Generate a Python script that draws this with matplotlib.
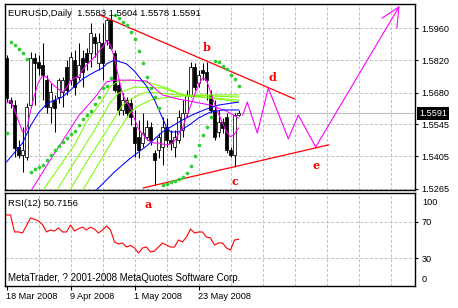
import matplotlib
matplotlib.use('Agg')
import matplotlib.pyplot as plt
from matplotlib import transforms

plt.rcParams['font.family'] = ['Liberation Sans', 'DejaVu Sans']

# chart texts
symbol = 'EURUSD,Daily'
rsi_name = 'RSI(12)'
rsi_last = 50.7156
copyright_text = 'MetaTrader, ? 2001-2008 MetaQuotes Software Corp.'

# date axis
date_labels = ['18 Mar 2008', '9 Apr 2008', '1 May 2008', '23 May 2008']
date_bars = [0, 16, 32, 48]
price_ticks = [1.5265, 1.5405, 1.5545, 1.5680, 1.5820, 1.5960]
rsi_levels = [30, 70]

# daily candles
opens = [1.5830, 1.5649, 1.5627, 1.5446, 1.5411, 1.5403, 1.5627, 1.5830, 1.5813, 1.5800,
         1.5735, 1.5619, 1.5649, 1.5662, 1.5684, 1.5792, 1.5735, 1.5822, 1.5748, 1.5830,
         1.5852, 1.5852, 1.5921, 1.5809, 1.5895, 1.5908, 1.5995, 1.5852, 1.5714, 1.5606,
         1.5649, 1.5636, 1.5532, 1.5489, 1.5463, 1.5489, 1.5532, 1.5420, 1.5433, 1.5446,
         1.5532, 1.5476, 1.5446, 1.5476, 1.5519, 1.5593, 1.5671, 1.5792, 1.5722, 1.5779,
         1.5770, 1.5671, 1.5606, 1.5511, 1.5554, 1.5576, 1.5433, 1.5411, 1.5583]
highs = [1.5843, 1.5662, 1.5649, 1.5476, 1.5532, 1.5636, 1.5856, 1.5852, 1.5843, 1.5895,
         1.5757, 1.5722, 1.5671, 1.5744, 1.5748, 1.5822, 1.5856, 1.5865, 1.5895, 1.5865,
         1.5874, 1.5982, 1.5938, 1.5938, 1.5982, 1.6003, 1.6016, 1.5865, 1.5735, 1.5679,
         1.5662, 1.5658, 1.5606, 1.5563, 1.5593, 1.5563, 1.5554, 1.5433, 1.5506, 1.5576,
         1.5571, 1.5519, 1.5519, 1.5606, 1.5649, 1.5692, 1.5813, 1.5809, 1.5779, 1.5809,
         1.5813, 1.5692, 1.5649, 1.5606, 1.5571, 1.5593, 1.5446, 1.5593, 1.5604]
lows = [1.5640, 1.5614, 1.5403, 1.5398, 1.5338, 1.5390, 1.5614, 1.5627, 1.5757, 1.5649,
        1.5593, 1.5550, 1.5511, 1.5636, 1.5619, 1.5671, 1.5714, 1.5671, 1.5735, 1.5705,
        1.5779, 1.5792, 1.5835, 1.5779, 1.5735, 1.5887, 1.5865, 1.5684, 1.5584, 1.5584,
        1.5576, 1.5541, 1.5403, 1.5398, 1.5446, 1.5476, 1.5455, 1.5282, 1.5398, 1.5368,
        1.5446, 1.5433, 1.5403, 1.5463, 1.5489, 1.5576, 1.5662, 1.5692, 1.5705, 1.5735,
        1.5649, 1.5593, 1.5476, 1.5489, 1.5506, 1.5420, 1.5403, 1.5360, 1.5578]
closes = [1.5658, 1.5636, 1.5442, 1.5411, 1.5433, 1.5619, 1.5830, 1.5809, 1.5787, 1.5757,
          1.5619, 1.5684, 1.5614, 1.5735, 1.5735, 1.5692, 1.5835, 1.5705, 1.5800, 1.5770,
          1.5813, 1.5938, 1.5895, 1.5900, 1.5809, 1.5995, 1.5874, 1.5692, 1.5606, 1.5649,
          1.5593, 1.5576, 1.5463, 1.5433, 1.5506, 1.5532, 1.5476, 1.5390, 1.5489, 1.5532,
          1.5476, 1.5463, 1.5489, 1.5576, 1.5593, 1.5671, 1.5792, 1.5705, 1.5757, 1.5766,
          1.5735, 1.5606, 1.5489, 1.5554, 1.5528, 1.5433, 1.5411, 1.5584, 1.5591]

# parabolic SAR dots
sar = [1.5506, 1.5900, 1.5887, 1.5869, 1.5852, 1.5826, 1.5338, 1.5351, 1.5360, 1.5368,
       1.5390, 1.5411, 1.5433, 1.5450, 1.5468, 1.5485, 1.5502, 1.5515, 1.5541, 1.5567,
       1.5584, 1.5601, 1.5632, 1.5662, 1.5701, 1.5710, 1.5744, 1.6016, 1.6003, 1.5986,
       1.5973, 1.5943, 1.5913, 1.5861, 1.5809, 1.5748, 1.5701, 1.5662, 1.5614, 1.5282,
       1.5286, 1.5295, 1.5299, 1.5308, 1.5316, 1.5334, 1.5364, 1.5407, 1.5455, 1.5498,
       1.5532, 1.5576, 1.5817, 1.5813, 1.5796, 1.5783, 1.5757, 1.5740, 1.5709]

# fast magenta average
ma_fast = [1.5636, 1.5645, 1.5606, 1.5558, 1.5511, 1.5519, 1.5601, 1.5671, 1.5727, 1.5753,
           1.5748, 1.5727, 1.5709, 1.5696, 1.5684, 1.5701, 1.5731, 1.5744, 1.5748, 1.5779,
           1.5800, 1.5817, 1.5835, 1.5856, 1.5878, 1.5904, 1.5887, 1.5830, 1.5748, 1.5675,
           1.5640, 1.5614, 1.5567, 1.5524, 1.5502, 1.5481, 1.5468, 1.5463, 1.5463, 1.5459,
           1.5455, 1.5459, 1.5472, 1.5502, 1.5528, 1.5576, 1.5623, 1.5671, 1.5714, 1.5744,
           1.5735, 1.5684, 1.5632, 1.5589, 1.5550, 1.5511, 1.5489, 1.5502, 1.5528]

# slow magenta curve
ma_slow_bars = [6, 10, 14, 18, 22, 24, 25, 27, 31, 35, 37, 39, 43, 47, 51, 55, 58]
ma_slow = [1.5252, 1.5364, 1.5472, 1.5580, 1.5658, 1.5705, 1.5727, 1.5735, 1.5735, 1.5731,
           1.5701, 1.5671, 1.5653, 1.5640, 1.5627, 1.5601, 1.5571]

# blue averages
blue_mid_bars = [0, 4, 6, 8, 10, 12, 14, 16, 19, 22, 24, 25, 27, 30, 32, 35, 37, 39, 40,
                 41, 43, 46, 48, 51, 54, 58]
blue_mid = [1.5381, 1.5463, 1.5537, 1.5593, 1.5632, 1.5649, 1.5662, 1.5692, 1.5740, 1.5770,
            1.5787, 1.5805, 1.5822, 1.5805, 1.5774, 1.5709, 1.5649, 1.5571, 1.5532, 1.5511,
            1.5511, 1.5545, 1.5571, 1.5597, 1.5606, 1.5606]
blue_long_bars = [22, 27, 31, 35, 39, 44, 47, 50, 53, 58]
blue_long = [1.5252, 1.5338, 1.5398, 1.5450, 1.5511, 1.5563, 1.5589, 1.5610, 1.5627, 1.5640]

# lime fan curves
lime1_bars = [8, 13, 17, 20, 24, 26, 28, 32, 36, 40, 44, 51, 58]
lime1 = [1.5231, 1.5355, 1.5455, 1.5554, 1.5649, 1.5709, 1.5731, 1.5735, 1.5722, 1.5701,
         1.5671, 1.5658, 1.5640]
lime2_bars = [12, 17, 22, 26, 28, 32, 39, 45, 58]
lime2 = [1.5243, 1.5381, 1.5519, 1.5640, 1.5679, 1.5705, 1.5701, 1.5666, 1.5649]
lime3_bars = [15, 20, 25, 29, 32, 35, 43, 58]
lime3 = [1.5234, 1.5381, 1.5515, 1.5627, 1.5662, 1.5684, 1.5671, 1.5662]
lime4_bars = [18, 23, 27, 31, 33, 36, 39, 47, 58]
lime4 = [1.5230, 1.5372, 1.5489, 1.5597, 1.5623, 1.5649, 1.5658, 1.5671, 1.5671]

# wave projection and arrow head
wave_bars = [59.05, 60.2, 62.7, 65.45, 70.45, 72.95, 77.3, 98.1]
wave_prices = [1.5584, 1.5640, 1.5506, 1.5701, 1.5481, 1.5584, 1.5446, 1.6051]
barb_bars = [93.9, 98.1, 97.6]
barb_prices = [1.6003, 1.6051, 1.5960]

# trend lines
upper_trend_bars = [23.4, 72.1]
upper_trend = [1.6016, 1.5653]
lower_trend_bars = [34.2, 80.5]
lower_trend = [1.5269, 1.5455]

# wave letters
letters = ['b', 'c', 'd', 'e']
letter_bars = [50.1, 57.1, 66.6, 77.4]
letter_prices = [1.5874, 1.5295, 1.5748, 1.5368]
letter_a_bar = 35.4
letter_a_rsi = 89

# RSI(12)
rsi = [77.8, 77.8, 58.9, 59.0, 57.8, 66.0, 74.4, 73.0, 71.1, 67.0,
       58.9, 61.1, 60.0, 63.3, 58.9, 58.9, 66.7, 60.0, 62.5, 64.4,
       61.1, 64.4, 62.0, 57.8, 61.1, 65.6, 61.1, 47.8, 45.6, 46.7,
       42.2, 44.0, 41.1, 35.6, 41.1, 42.2, 36.7, 37.8, 42.2, 46.7,
       44.4, 42.2, 42.2, 50.0, 47.8, 53.3, 62.2, 57.8, 58.9, 58.9,
       53.3, 52.2, 44.4, 46.7, 46.7, 41.1, 38.9, 50.0, 50.7]

W, H = 458, 308
fig = plt.figure(figsize=(W / 100, H / 100), dpi=100)
fig.patch.set_facecolor('white')

ax = fig.add_axes([5 / W, 1 - 190 / H, 410 / W, 186 / H])
ax2 = fig.add_axes([5 / W, 1 - 286 / H, 410 / W, 93 / H])

grid_kw = dict(color='#c0c0c0', lw=0.7, ls=(0, (3, 2)), zorder=0)
x_lim = (-0.375, 102.125)
grid_bars = list(range(8, 103, 8))

# ---- main price panel ----
for g in grid_bars:
    ax.axvline(g, **grid_kw)
for p in price_ticks:
    ax.axhline(p, **grid_kw)
ax.axhline(closes[-1], color='#c0c0c0', lw=0.8, zorder=0)

bars = list(range(len(closes)))
ax.vlines(bars, lows, highs, color='black', lw=0.75, zorder=2)
for i in bars:
    o, c = opens[i], closes[i]
    body = max(abs(c - o), 0.00025)
    ax.bar(i, body, bottom=min(o, c), width=0.7,
           color='white' if c >= o else 'black', edgecolor='black', lw=0.55, zorder=3)

line_kw = dict(lw=0.75, zorder=4)
for b, v in [(lime1_bars, lime1), (lime2_bars, lime2), (lime3_bars, lime3), (lime4_bars, lime4)]:
    ax.plot(b, v, color='#7cfc00', **line_kw)
ax.plot(ma_slow_bars, ma_slow, color='#ff00ff', **line_kw)
ax.plot(blue_long_bars, blue_long, color='#0000ff', **line_kw)
ax.plot(blue_mid_bars, blue_mid, color='#0000ff', **line_kw)
ax.plot(bars, ma_fast, color='#ff00ff', **line_kw)
ax.scatter(bars, sar, s=7, marker='o', color='#32cd32', linewidths=0, zorder=5)

ax.plot(upper_trend_bars, upper_trend, color='red', lw=0.9, zorder=4)
ax.plot(lower_trend_bars, lower_trend, color='red', lw=0.9, zorder=4)
ax.plot(wave_bars, wave_prices, color='#ff00ff', lw=0.8, zorder=4)
ax.plot(barb_bars, barb_prices, color='#ff00ff', lw=0.8, zorder=4)

for t, b, p in zip(letters, letter_bars, letter_prices):
    ax.text(b, p, t, color='red', fontsize=8, fontweight='bold', family='DejaVu Serif',
            ha='center', va='center', zorder=6)

ax.set_xlim(*x_lim)
ax.set_ylim(1.5260, 1.6064)
ax.set_xticks([])
ax.yaxis.tick_right()
ax.set_yticks(price_ticks)
ax.set_yticklabels([f'{p:.4f}' for p in price_ticks])
ax.tick_params(axis='y', direction='out', length=2.5, width=0.8, labelsize=6.6, pad=2)
for s in ax.spines.values():
    s.set_linewidth(1.0)

head = f'{symbol}  {opens[-1]:.4f} {highs[-1]:.4f} {lows[-1]:.4f} {closes[-1]:.4f}'
ax.text(3 / 410, 1 - 9 / 186, head, transform=ax.transAxes, fontsize=6.8,
        ha='left', va='center', zorder=7)

trans = transforms.blended_transform_factory(ax.transAxes, ax.transData)
ax.text(1 + 4 / 410, closes[-1], f'{closes[-1]:.4f}', transform=trans, color='white',
        fontsize=6.6, ha='left', va='center', clip_on=False,
        bbox=dict(facecolor='black', edgecolor='none', pad=1.3))

# ---- RSI panel ----
for g in grid_bars:
    ax2.axvline(g, **grid_kw)
for lv in rsi_levels:
    ax2.axhline(lv, **grid_kw)
ax2.plot(bars, rsi, color='red', lw=0.8, zorder=3)
ax2.text(letter_a_bar, letter_a_rsi, 'a', color='red', fontsize=8, fontweight='bold',
         family='DejaVu Serif', ha='center', va='center')
ax2.set_xlim(*x_lim)
ax2.set_ylim(-1.1, 102.2)
ax2.yaxis.tick_right()
ax2.set_yticks(rsi_levels)
ax2.set_yticklabels([str(v) for v in rsi_levels])
ax2.tick_params(axis='y', direction='out', length=2.5, width=0.8, labelsize=6.6, pad=2)
rtrans = transforms.blended_transform_factory(ax2.transAxes, ax2.transData)
ax2.text(1 + 7 / 410, 92, '100', transform=rtrans, fontsize=6.6, ha='left', va='center')
ax2.text(1 + 7 / 410, 6, '0', transform=rtrans, fontsize=6.6, ha='left', va='center')
ax2.set_xticks(date_bars)
ax2.set_xticklabels(date_labels, ha='left')
ax2.tick_params(axis='x', direction='out', length=3, width=0.8, labelsize=6.6, pad=1.5)
for s in ax2.spines.values():
    s.set_linewidth(1.0)

ax2.text(3 / 410, 1 - 11 / 93, f'{rsi_name} {rsi_last}', transform=ax2.transAxes,
         fontsize=6.8, ha='left', va='center')
ax2.text(3 / 410, 1 - 85 / 93, copyright_text, transform=ax2.transAxes,
         fontsize=7.0, ha='left', va='center')

fig.savefig('out.png', dpi=100, facecolor='white')
